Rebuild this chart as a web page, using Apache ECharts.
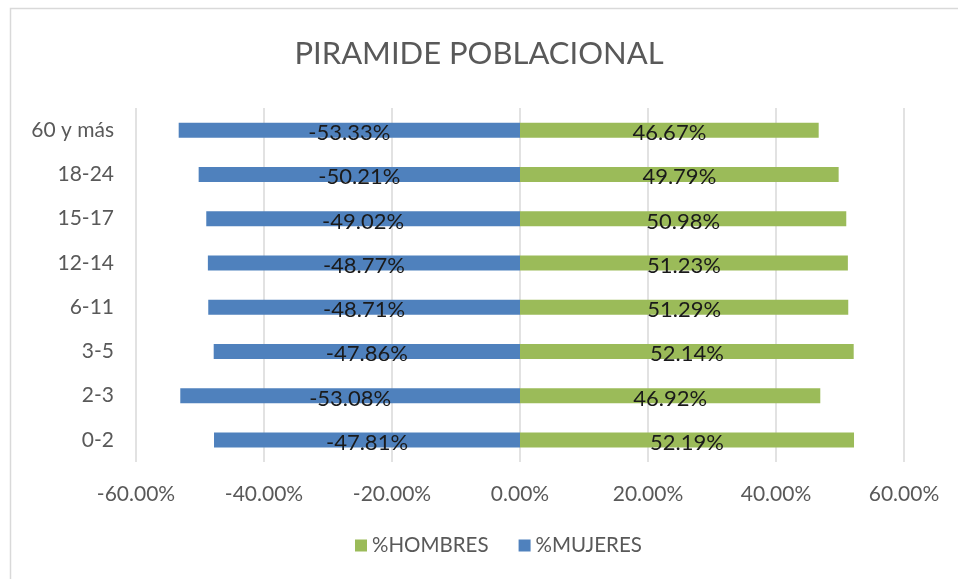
<!DOCTYPE html>
<html><head><meta charset="utf-8">
<script src="https://cdn.jsdelivr.net/npm/echarts@6/dist/echarts.min.js"></script>
<style>html,body{margin:0;padding:0;background:#fff}#c{width:958px;height:579px}</style>
</head><body><div id="c"></div>
<script>
const categories = ['0-2','2-3','3-5','6-11','12-14','15-17','18-24','60 y más'];
const mujeres = [-47.81,-53.08,-47.86,-48.71,-48.77,-49.02,-50.21,-53.33];
const hombres = [52.19,46.92,52.14,51.29,51.23,50.98,49.79,46.67];
const xTicks = [-60,-40,-20,0,20,40,60];

const font = 'Lato, "Open Sans", sans-serif';
const chart = echarts.init(document.getElementById('c'), null, {renderer:'canvas'});
const lbl = {
  show:true, position:'inside', color:'#1a1a1a', fontSize:22, fontFamily:font,
  offset:[0,3],
  formatter: p => p.value.toFixed(2) + '%'
};
chart.setOption({
  animation:false,
  backgroundColor:'#fff',
  graphic:[{type:'rect', shape:{x:10.5,y:8.5,width:1000,height:1000}, style:{fill:'none',stroke:'#d9d9d9',lineWidth:1.5}, silent:true}],
  title:{text:'PIRAMIDE POBLACIONAL', left:'center', top:33,
    textStyle:{fontFamily:font, fontSize:31, fontWeight:'normal', color:'#595959'}},
  legend:{bottom:18, left:350, itemWidth:12, itemHeight:12, itemGap:30,
    icon:'rect', data:['%HOMBRES','%MUJERES'],
    textStyle:{fontFamily:font, fontSize:20.5, color:'#595959'}},
  grid:{left:136, right:54, top:108, bottom:117, containLabel:false},
  xAxis:{type:'value', min:-60, max:60, interval:20,
    axisLine:{show:false}, axisTick:{show:false},
    splitLine:{show:true, lineStyle:{color:'#d9d9d9', width:1.5}},
    axisLabel:{fontFamily:font, fontSize:21, color:'#595959', margin:22,
      formatter: v => v.toFixed(2) + '%'}},
  yAxis:{type:'category', data:categories,
    axisLine:{show:false}, axisTick:{show:false},
    axisLabel:{fontFamily:font, fontSize:21, color:'#595959', margin:22}},
  series:[
    {name:'%HOMBRES', type:'bar', stack:'t', data:hombres, barWidth:15,
      itemStyle:{color:'#9BBB59'}, label:lbl},
    {name:'%MUJERES', type:'bar', stack:'t', data:mujeres, barWidth:15,
      itemStyle:{color:'#4F81BD'}, label:lbl}
  ]
});
</script></body></html>
